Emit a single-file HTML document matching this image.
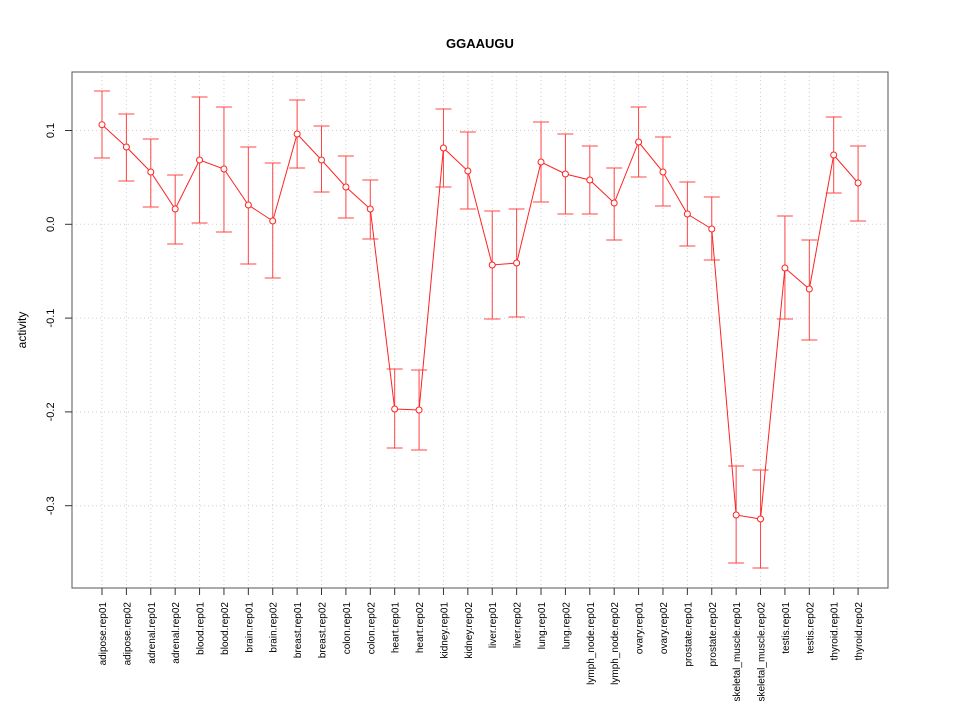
<!DOCTYPE html>
<html><head><style>body{margin:0;background:#fff}svg{display:block}</style></head><body>
<svg width="960" height="720" xmlns="http://www.w3.org/2000/svg" font-family="Liberation Sans, sans-serif">
<rect width="960" height="720" fill="#fff"/>
<g id="grid" stroke="#d0d0d0" stroke-dasharray="1,3" stroke-width="1"></g>
<rect x="72" y="72" width="816" height="516" fill="none" stroke="#555" stroke-width="1"/>
<g id="axes" stroke="#333" stroke-width="1"></g>
<g id="series"></g>
<g id="labels" font-size="11" fill="#000"></g>
<text x="480" y="48" font-size="13" font-weight="bold" text-anchor="middle">GGAAUGU</text>
<text transform="translate(26,330) rotate(-90)" font-size="12" text-anchor="middle">activity</text>
<script>
var ns="http://www.w3.org/2000/svg";
function el(p,t,a,txt){var e=document.createElementNS(ns,t);for(var k in a)e.setAttribute(k,a[k]);if(txt)e.textContent=txt;document.getElementById(p).appendChild(e);return e;}
var names=["adipose","adrenal","blood","brain","breast","colon","heart","kidney","liver","lung","lymph_node","ovary","prostate","skeletal_muscle","testis","thyroid"];
var d=[[124.7,91,158],[147,114,181],[172,139,207],[209,175,244],[160,97,223],[169,107,232],[205,147,264],[221,163,278],[134,100,168],[160,126,192],[187,156,218],[209,180,239],[409,369,448],[410,370,450],[148,109,187],[171,132,209],[265,211,319],[263,209,317],[162,122,202],[174,134,214],[180,146,214],[203,168,240],[142,107,177],[172,137,206],[214,182,246],[229,197,260],[515,466,563],[519,470,568],[268,216,319],[289,240,340],[155,117,193],[183,146,221]];
var yt=[[0.1,130.5],[0.0,224.3],[-0.1,318.1],[-0.2,411.9],[-0.3,505.7]];
yt.forEach(function(t){el("grid","line",{x1:72,x2:888,y1:t[1],y2:t[1]});el("axes","line",{x1:65,x2:72,y1:t[1],y2:t[1]});
el("labels","text",{transform:"translate(54,"+t[1]+") rotate(-90)","text-anchor":"middle"},t[0].toFixed(1));});
var pts=[];
d.forEach(function(v,i){var x=102+i*24.39;var nm=names[Math.floor(i/2)]+".rep0"+(i%2+1);
el("grid","line",{x1:x,x2:x,y1:72,y2:588});el("axes","line",{x1:x,x2:x,y1:588,y2:595});
el("labels","text",{transform:"translate("+(x+4)+",602) rotate(-90)","text-anchor":"end","font-size":"10"},nm);
el("series","line",{x1:x,x2:x,y1:v[1],y2:v[2],stroke:"#f44"});
el("series","line",{x1:x-8,x2:x+8,y1:v[1],y2:v[1],stroke:"#f44"});
el("series","line",{x1:x-8,x2:x+8,y1:v[2],y2:v[2],stroke:"#f44"});
pts.push(x+","+v[0]);});
el("series","polyline",{points:pts.join(" "),fill:"none",stroke:"#f22"});
pts.forEach(function(p){var a=p.split(",");el("series","circle",{cx:a[0],cy:a[1],r:3,fill:"#fff",stroke:"#f22"});});
</script>
</svg>
</body></html>
